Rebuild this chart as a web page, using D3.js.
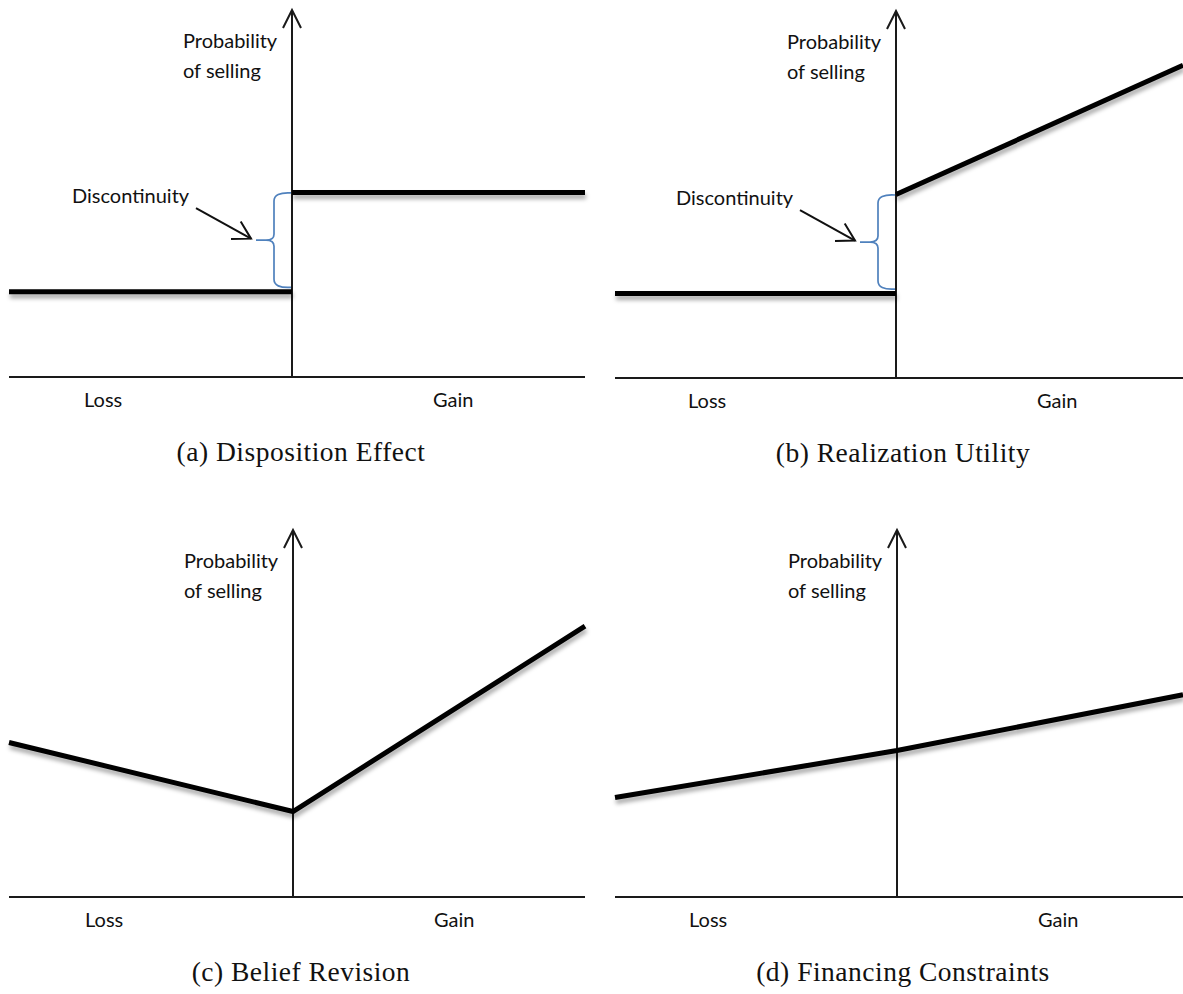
<!DOCTYPE html>
<html>
<head>
<meta charset="utf-8">
<script src="https://cdn.jsdelivr.net/npm/d3@7"></script>
<style>
  html, body { margin: 0; padding: 0; background: #fff; }
  svg { display: block; }
</style>
</head>
<body>
<script>
// Position along the return axis: -1 = largest loss shown, 0 = purchase price, 1 = largest gain shown
const xLoss = [-1, 0];
const xGain = [0, 1];

// Probability of selling (0 = horizontal axis, 1 = top of the vertical axis)
const dispositionLoss  = [0.232, 0.232];
const dispositionGain  = [0.503, 0.503];
const realizationLoss  = [0.230, 0.230];
const realizationGain  = [0.500, 0.852];
const beliefLoss       = [0.421, 0.233];
const beliefGain       = [0.233, 0.738];
const financingLoss    = [0.271, 0.399];
const financingGain    = [0.399, 0.551];

const captions   = ["(a) Disposition Effect", "(b) Realization Utility", "(c) Belief Revision", "(d) Financing Constraints"];
const xLabels    = ["Loss", "Gain"];
const yLabel     = ["Probability", "of selling"];
const jumpLabel  = "Discontinuity";
const showJump   = [true, true, false, false];

const series = [
  [dispositionLoss, dispositionGain],
  [realizationLoss, realizationGain],
  [beliefLoss, beliefGain],
  [financingLoss, financingGain]
];

const W = 1183, H = 994;
const svg = d3.select("body").append("svg").attr("width", W).attr("height", H);

// soft shadow under the thick curves (user-space region so flat lines keep it)
const defs = svg.append("defs");
const shadow = defs.append("filter").attr("id", "soft-shadow")
  .attr("filterUnits", "userSpaceOnUse")
  .attr("x", 0).attr("y", 0).attr("width", W).attr("height", H);
shadow.append("feDropShadow")
  .attr("dx", 1).attr("dy", 4).attr("stdDeviation", 2)
  .attr("flood-color", "#000").attr("flood-opacity", 0.34);

// Frame of each small diagram: left edge, origin, right edge, baseline
const frames = [
  { left: 9,   origin: 292, right: 585,  base: 377 },
  { left: 615, origin: 896, right: 1183, base: 378 },
  { left: 9,   origin: 293, right: 585,  base: 897 },
  { left: 615, origin: 897, right: 1183, base: 897 }
];
const axisHeight = 367;

const sans = "Lato, 'Open Sans', sans-serif";
const serif = "'Liberation Serif', 'Times New Roman', serif";
const sansSize = 20;

frames.forEach((f, i) => {
  const g = svg.append("g");
  const x = d3.scaleLinear().domain([-1, 0, 1]).range([f.left, f.origin, f.right]);
  const y = d3.scaleLinear().domain([0, 1]).range([f.base, f.base - axisHeight]);

  // horizontal axis
  g.append("line")
    .attr("x1", x(-1)).attr("x2", x(1))
    .attr("y1", y(0)).attr("y2", y(0))
    .attr("stroke", "#1a1a1a").attr("stroke-width", 2);

  // vertical axis with open arrow head
  g.append("line")
    .attr("x1", x(0)).attr("x2", x(0))
    .attr("y1", y(0)).attr("y2", y(1))
    .attr("stroke", "#1a1a1a").attr("stroke-width", 2);
  g.append("path")
    .attr("d", `M${x(0) - 9},${y(1) + 18} L${x(0)},${y(1)} L${x(0) + 9},${y(1) + 18}`)
    .attr("fill", "none").attr("stroke", "#1a1a1a").attr("stroke-width", 2)
    .attr("stroke-linejoin", "miter");

  // y label
  const yl = g.append("text")
    .attr("x", x(0) - 109).attr("y", y(1) + 38)
    .attr("font-family", sans).attr("font-size", sansSize).attr("fill", "#111");
  yl.selectAll("tspan").data(yLabel).join("tspan")
    .attr("x", x(0) - 109).attr("dy", (d, k) => k === 0 ? 0 : 30)
    .text(d => d);

  // x labels
  g.append("text").attr("x", x(0) - 208).attr("y", y(0) + 30)
    .attr("font-family", sans).attr("font-size", sansSize).attr("fill", "#111")
    .text(xLabels[0]);
  g.append("text").attr("x", x(0) + 141).attr("y", y(0) + 30)
    .attr("font-family", sans).attr("font-size", sansSize).attr("fill", "#111")
    .text(xLabels[1]);

  // curves of selling probability
  const line = d3.line().x(d => x(d[0])).y(d => y(d[1]));
  const [lossVals, gainVals] = series[i];
  const lossPts = xLoss.map((v, k) => [v, lossVals[k]]);
  const gainPts = xGain.map((v, k) => [v, gainVals[k]]);
  const continuous = lossVals[lossVals.length - 1] === gainVals[0];
  const paths = continuous ? [lossPts.concat(gainPts.slice(1))] : [lossPts, gainPts];
  paths.forEach(p => {
    g.append("path")
      .attr("d", line(p))
      .attr("fill", "none").attr("stroke", "#000").attr("stroke-width", 5)
      .attr("stroke-linejoin", "miter").attr("stroke-linecap", "butt")
      .attr("filter", "url(#soft-shadow)");
  });

  // brace marking the jump at the origin
  if (showJump[i]) {
    const ox = x(0);
    const yT = y(gainVals[0]) + 0.5;
    const yB = y(lossVals[lossVals.length - 1]) - 4.5;
    const yM = (yT + yB) / 2;
    const sx = ox - 18;
    const tip = ox - 36;
    g.append("path")
      .attr("d",
        `M${ox - 1},${yT} Q${sx},${yT - 1} ${sx},${yT + 8} L${sx},${yM - 6} Q${sx},${yM} ${sx - 8},${yM} L${tip},${yM} ` +
        `M${sx - 8},${yM} Q${sx},${yM} ${sx},${yM + 6} L${sx},${yB - 8} Q${sx},${yB + 1} ${ox - 1},${yB}`)
      .attr("fill", "none").attr("stroke", "#4f81bd").attr("stroke-width", 1.7);

    g.append("text").attr("x", ox - 220).attr("y", yT + 10)
      .attr("font-family", sans).attr("font-size", sansSize).attr("fill", "#111")
      .text(jumpLabel);

    // pointer arrow to the brace
    const ax0 = ox - 96, ay0 = yM - 32;
    const ax1 = tip - 5, ay1 = yM - 1.5;
    const ang = Math.atan2(ay1 - ay0, ax1 - ax0);
    const hl = 20, spread = Math.PI / 6;
    g.append("line").attr("x1", ax0).attr("y1", ay0).attr("x2", ax1).attr("y2", ay1)
      .attr("stroke", "#111").attr("stroke-width", 2);
    g.append("path")
      .attr("d", `M${ax1 - hl * Math.cos(ang - spread)},${ay1 - hl * Math.sin(ang - spread)} L${ax1},${ay1} ` +
                 `L${ax1 - hl * Math.cos(ang + spread)},${ay1 - hl * Math.sin(ang + spread)}`)
      .attr("fill", "none").attr("stroke", "#111").attr("stroke-width", 2);
  }

  // caption
  g.append("text")
    .attr("x", (f.left + Math.min(f.right, f.left + 576)) / 2 + 4)
    .attr("y", y(0) + 84)
    .attr("text-anchor", "middle")
    .attr("font-family", serif).attr("font-size", 27.5)
    .attr("letter-spacing", 0.5)
    .attr("fill", "#111")
    .text(captions[i]);
});
</script>
</body>
</html>
